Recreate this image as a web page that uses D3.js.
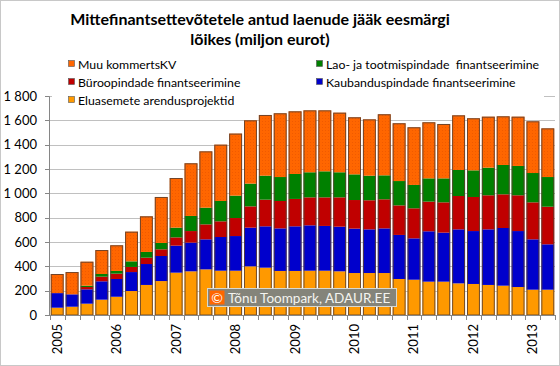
<!DOCTYPE html>
<html><head><meta charset="utf-8">
<script src="https://cdn.jsdelivr.net/npm/d3@7"></script>
<style>body{margin:0;background:#fff}svg{display:block}text{font-family:Lato,"Open Sans",sans-serif;white-space:pre}</style>
</head><body><svg id="c" width="560" height="366"></svg>
<script>
const quarters = ["2005Q1","2005Q2","2005Q3","2005Q4","2006Q1","2006Q2","2006Q3","2006Q4","2007Q1","2007Q2","2007Q3","2007Q4","2008Q1","2008Q2","2008Q3","2008Q4","2009Q1","2009Q2","2009Q3","2009Q4","2010Q1","2010Q2","2010Q3","2010Q4","2011Q1","2011Q2","2011Q3","2011Q4","2012Q1","2012Q2","2012Q3","2012Q4","2013Q1","2013Q2"];
const yearLabels = ["2005","2006","2007","2008","2009","2010","2011","2012","2013"];
const housing   = [60,68,93,126,150,197,247,279,348,359,375,364,364,400,389,362,362,364,364,359,345,345,345,296,290,274,274,260,255,247,241,230,208,208];
const trade     = [120,102,118,151,146,156,172,206,222,236,247,277,285,318,340,350,367,373,368,367,365,359,367,362,340,414,403,444,435,457,474,460,414,373];
const office    = [0,0,19,38,44,42,52,55,68,95,123,129,148,175,219,225,225,230,235,241,235,239,239,243,247,244,249,274,280,280,277,294,304,309];
const warehouse = [0,0,11,22,22,46,47,52,80,124,137,167,184,187,197,197,205,206,214,206,211,202,197,200,192,191,197,214,219,227,241,241,241,244];
const other     = [157,183,197,197,211,244,293,378,408,433,463,463,510,520,499,524,515,509,501,490,469,463,502,475,474,461,447,449,428,419,400,405,425,400];
const yTicks = [0,200,400,600,800,1000,1200,1400,1600,1800];
const seriesNames = ["Eluasemete arendusprojektid","Kaubanduspindade finantseerimine","Büroopindade finantseerimine","Lao- ja tootmispindade  finantseerimine","Muu kommertsKV"];
const seriesColors = ["#FF9900","#0000CC","#C00000","#008000","#FF6600"];

const svg = d3.select("#c");
const defs = svg.append("defs");
const pat = defs.append("pattern").attr("id","dots").attr("width",3).attr("height",3).attr("patternUnits","userSpaceOnUse");
pat.append("rect").attr("width",3).attr("height",3).attr("fill","#FF6600");
pat.append("rect").attr("x",1).attr("y",1).attr("width",1).attr("height",1).attr("fill","#F05A00");

svg.append("rect").attr("x",0.5).attr("y",0.5).attr("width",559).attr("height",365).attr("fill","#fff").attr("stroke","#c8c8c8");

const x = d3.scaleBand().domain(d3.range(quarters.length)).range([50,555]).paddingInner(0.13).paddingOuter(0.05);
const y = d3.scaleLinear().domain([0,1800]).range([315,96]);

// gridlines
svg.append("g").selectAll("line").data(yTicks.slice(1)).join("line")
  .attr("x1",49).attr("x2",555).attr("y1",d=>Math.round(y(d))+0.5).attr("y2",d=>Math.round(y(d))+0.5)
  .attr("stroke","#c0c0c0").attr("stroke-width",1);

// y axis
const ya = svg.append("g");
ya.append("line").attr("x1",49.5).attr("x2",49.5).attr("y1",Math.round(y(1800))+0.5).attr("y2",315.5).attr("stroke","#868686");
ya.selectAll("line.t").data(yTicks).join("line").attr("class","t")
  .attr("x1",45).attr("x2",49.5).attr("y1",d=>Math.round(y(d))+0.5).attr("y2",d=>Math.round(y(d))+0.5).attr("stroke","#868686");
ya.selectAll("text").data(yTicks).join("text")
  .attr("x",37).attr("y",d=>y(d)+4.5).attr("text-anchor","end").attr("font-size",13).attr("fill","#000")
  .text(d=>d3.format(",")(d).replace(","," "));

// stacked bars
const data = quarters.map((q,i)=>[housing[i],trade[i],office[i],warehouse[i],other[i]]);
const g = svg.append("g");
data.forEach((vals,i)=>{
  let acc=0;
  vals.forEach((v,k)=>{
    if(v<=0) return;
    g.append("rect").attr("x",x(i)).attr("width",x.bandwidth())
      .attr("y",y(acc+v)).attr("height",y(acc)-y(acc+v))
      .attr("fill",k===4?"url(#dots)":seriesColors[k]);
    acc+=v;
  });
  g.append("rect").attr("x",x(i)+0.5).attr("width",x.bandwidth()-1)
    .attr("y",y(acc)+0.5).attr("height",y(0)-y(acc)-0.5)
    .attr("fill","none").attr("stroke","#5a4030").attr("stroke-width",1).attr("stroke-opacity",0.85);
});

// x axis
const xa = svg.append("g");
xa.append("line").attr("x1",49).attr("x2",555).attr("y1",315.5).attr("y2",315.5).attr("stroke","#868686");
const step = x.step();
const bounds = d3.range(quarters.length+1).map(i=> i<quarters.length ? x(i)-step*0.065 : x(i-1)+x.bandwidth()+step*0.065);
xa.selectAll("line.t").data(bounds).join("line").attr("class","t")
  .attr("x1",d=>Math.round(d)+0.5).attr("x2",d=>Math.round(d)+0.5).attr("y1",315).attr("y2",320).attr("stroke","#868686");
xa.selectAll("text").data(yearLabels).join("text")
  .attr("transform",(d,j)=>`translate(${x(j*4)+x.bandwidth()/2+4.5},324) rotate(-90)`)
  .attr("text-anchor","end").attr("font-size",13).attr("fill","#000").text(d=>d);

// legend
const leg = svg.append("g");
leg.append("rect").attr("x",52).attr("y",54).attr("width",492).attr("height",54).attr("fill","#fff");
const legItems = [
  {k:4,x:68,y:64},{k:3,x:316,y:64},
  {k:2,x:68,y:82},{k:1,x:316,y:82},
  {k:0,x:68,y:100}
];
legItems.forEach(it=>{
  leg.append("rect").attr("x",it.x+0.5).attr("y",it.y-3.5).attr("width",6).attr("height",6)
    .attr("fill",seriesColors[it.k]).attr("stroke","#555").attr("stroke-width",0.6);
  leg.append("text").attr("x",it.x+10).attr("y",it.y+4.5).attr("font-size",12.3).attr("fill","#000").text(seriesNames[it.k]);
});

// title
svg.append("text").attr("x",260).attr("y",25).attr("text-anchor","middle").attr("font-size",16).attr("font-weight","bold").attr("fill","#000")
  .text("Mittefinantsettevõtetele antud laenude jääk eesmärgi");
svg.append("text").attr("x",260).attr("y",45).attr("text-anchor","middle").attr("font-size",16).attr("font-weight","bold").attr("fill","#000")
  .text("lõikes (miljon eurot)");

// watermark
const wm = svg.append("g");
wm.append("rect").attr("x",207.5).attr("y",288.5).attr("width",189).attr("height",18).attr("fill","#84847a").attr("stroke","#d8d8d0").attr("stroke-width",1);
wm.append("rect").attr("x",209.5).attr("y",290.5).attr("width",15).attr("height",14).attr("fill","#FF6600");
wm.append("text").attr("x",217).attr("y",302.5).attr("text-anchor","middle").attr("font-size",14).attr("fill","#fff").text("©");
wm.append("text").attr("x",228).attr("y",302.5).attr("font-size",13.5).attr("fill","#f4f4f0").text("Tõnu Toompark, ADAUR.EE");
</script></body></html>
